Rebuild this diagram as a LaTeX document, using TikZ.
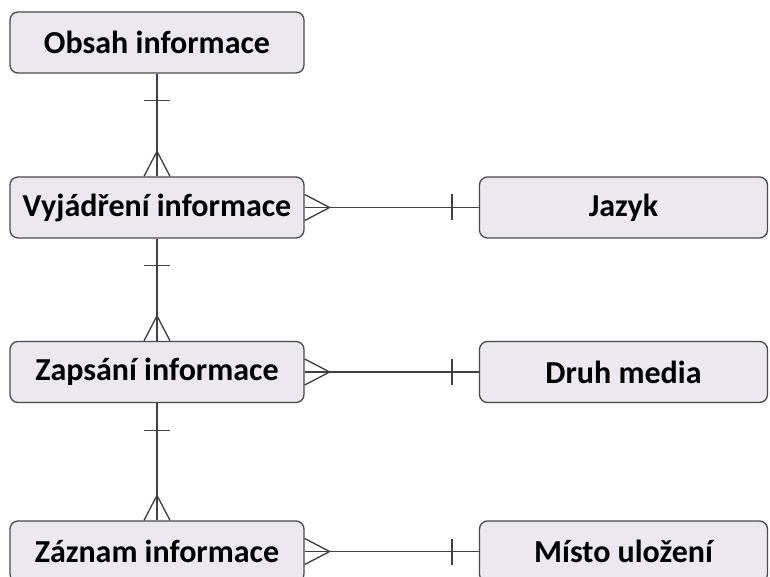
\documentclass[tikz,border=0pt]{standalone}
\usepackage{fontspec}
\setmainfont{Carlito}
\usetikzlibrary{calc}
\definecolor{boxfill}{HTML}{EBE8F0}
\definecolor{boxline}{HTML}{4A4A4A}
\definecolor{linkline}{HTML}{404040}
\begin{document}
\begin{tikzpicture}[x={(0.75pt,0)},y={(0,-0.75pt)},
  entity/.style={draw=boxline,fill=boxfill,line width=1pt,rounded corners=6pt,
    minimum height=61*0.75pt,inner sep=0pt,font=\fontsize{24}{28}\selectfont\bfseries},
  leftent/.style={entity,minimum width=294*0.75pt},
  rightent/.style={entity,minimum width=288*0.75pt},
  link/.style={draw=linkline,line width=1pt}]
\useasboundingbox (0,0) rectangle (770,577);
\node[leftent] (obsah) at (157,42.5) {Obsah informace};
\node[leftent] (vyj) at (157,207.5) {Vyjádření informace};
\node[leftent] (zap) at (157,372) {Zapsání informace};
\node[leftent] (zaz) at (157,551.5) {Záznam informace};
\node[rightent] (jazyk) at (623.5,207.5) {Jazyk};
\node[rightent] (druh) at (623.5,372) {Druh media};
\node[rightent] (misto) at (623.5,551.5) {Místo uložení};
% vertical links
\foreach \a/\b in {obsah/vyj,vyj/zap,zap/zaz}{
  \draw[link] (\a.south) -- (\b.north);
  \draw[link] ($(\a.south)+(-13,27)$) -- ($(\a.south)+(13,27)$);
  \draw[link] ($(\b.north)+(-13,0)$) -- ($(\b.north)+(0,-25)$) -- ($(\b.north)+(13,0)$);
}
% horizontal links
\foreach \a/\b in {vyj/jazyk,zap/druh,zaz/misto}{
  \draw[link] (\a.east) -- (\b.west);
  \draw[link] ($(\a.east)+(0,-13)$) -- ($(\a.east)+(25,0)$) -- ($(\a.east)+(0,13)$);
  \draw[link] ($(\b.west)+(-27,-13)$) -- ($(\b.west)+(-27,13)$);
}
\end{tikzpicture}
\end{document}
